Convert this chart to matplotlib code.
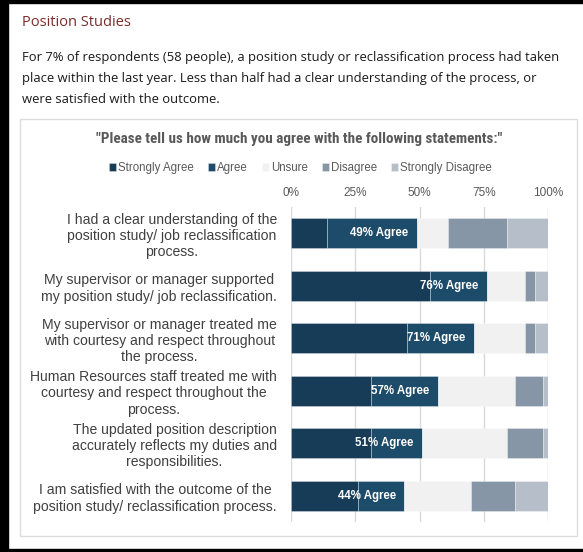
import matplotlib
matplotlib.use("Agg")
import matplotlib.pyplot as plt
from matplotlib.patches import Rectangle
import numpy as np

# ---------------- data ----------------
statements = [
    "I had a clear understanding of the\nposition study/ job reclassification\nprocess.",
    "My supervisor or manager supported\nmy position study/ job reclassification.",
    "My supervisor or manager treated me\nwith courtesy and respect throughout\nthe process.",
    "Human Resources staff treated me with\ncourtesy and respect throughout the\nprocess.",
    "The updated position description\naccurately reflects my duties and\nresponsibilities.",
    "I am satisfied with the outcome of the\nposition study/ reclassification process.",
]
series_names = ["Strongly Agree", "Agree", "Unsure", "Disagree", "Strongly Disagree"]
strongly_agree = [14, 54, 45, 31, 31, 26]
agree = [35, 22, 26, 26, 20, 18]
unsure = [12, 15, 20, 30, 33, 26]
disagree = [23, 4, 4, 11, 14, 17]
strongly_disagree = [16, 5, 5, 2, 2, 13]
agree_labels = ["49% Agree", "76% Agree", "71% Agree", "57% Agree", "51% Agree", "44% Agree"]
tick_values = [0, 25, 50, 75, 100]
tick_labels = ["0%", "25%", "50%", "75%", "100%"]

heading = "Position Studies"
paragraph = ["For 7% of respondents (58 people), a position study or reclassification process had taken",
             "place within the last year. Less than half had a clear understanding of the process, or",
             "were satisfied with the outcome."]
chart_title = '"Please tell us how much you agree with the following statements:"'

colors = ["#173c57", "#1d4b6a", "#f1f1f1", "#8796a6", "#b6bec9"]

W, H = 583, 552
fig = plt.figure(figsize=(W / 100, H / 100), dpi=100)


def fx(x):
    return x / W


def fy(y):
    return 1 - y / H


# frames
for r in [Rectangle((0, 0), fx(8), 1), Rectangle((0, fy(3)), 1, 3 / H), Rectangle((0, 0), 1, 3 / H)]:
    r.set_transform(fig.transFigure)
    r.set_color("black")
    r.set_zorder(-2)
    fig.patches.append(r)
panel = Rectangle((fx(20), fy(536)), fx(577) - fx(20), fy(119) - fy(536),
                  transform=fig.transFigure, facecolor="white", edgecolor="#dcdcdc",
                  lw=1.0, zorder=-1)
fig.patches.append(panel)

# header texts
fig.text(fx(22), fy(22), heading, color="#7a2d2b", fontsize=10.5, family="Open Sans",
         va="center", ha="left")
for i, line in enumerate(paragraph):
    fig.text(fx(22), fy(57 + 21.3 * i), line, color="#1a1a1a", fontsize=9.35, family="Open Sans",
             va="center", ha="left")

fig.text(fx(299), fy(139), chart_title, color="#595959", fontsize=10.9, fontweight="bold",
         family=["Roboto Condensed", "Barlow Semi Condensed", "Archivo Narrow", "DejaVu Sans"],
         va="center", ha="center")

# axes
ax = fig.add_axes([fx(291), fy(522), fx(548.3) - fx(291), fy(207) - fy(522)])
ax.set_zorder(1)
ax.patch.set_alpha(0)
values = [strongly_agree, agree, unsure, disagree, strongly_disagree]
y = np.arange(len(statements))
left = np.zeros(len(statements))
handles = []
for name, vals, c in zip(series_names, values, colors):
    vals = np.array(vals, dtype=float)
    b = ax.barh(y, vals, left=left, height=0.57, color=c, edgecolor=(1, 1, 1, 0.35),
                linewidth=0.6, label=name, zorder=2)
    handles.append(b)
    left += vals

agree_total = np.array(strongly_agree) + np.array(agree)
for yi, tot, lab in zip(y, agree_total, agree_labels):
    ax.text(tot - 3.3, yi, lab, color="white", fontsize=8.3, fontweight="bold",
            family="Liberation Sans", ha="right", va="center", zorder=3)

ax.set_xlim(0, 100)
ax.set_ylim(len(statements) - 0.5, -0.5)
ax.set_xticks(tick_values)
ax.set_xticklabels(tick_labels, family="Liberation Sans", fontsize=8.5, color="#595959")
ax.xaxis.tick_top()
ax.tick_params(axis="x", length=0, pad=6)
ax.set_yticks(y)
ax.set_yticklabels(statements, family="Liberation Sans", fontsize=10.1, color="#404040",
                   multialignment="center", linespacing=1.22)
ax.tick_params(axis="y", length=0, pad=10)
for s in ax.spines.values():
    s.set_visible(False)
ax.grid(axis="x", color="#d9d9d9", lw=1, zorder=0)
ax.set_axisbelow(True)

fig.legend(handles=handles, labels=series_names, loc="center", bbox_to_anchor=(fx(300.5), fy(168)),
           ncol=5, frameon=False, prop={"family": "Liberation Sans", "size": 8.3},
           labelcolor="#595959", handlelength=0.6, handleheight=0.6, handletextpad=0.15,
           columnspacing=1.25, borderaxespad=0)

fig.savefig("out.png", dpi=100)
